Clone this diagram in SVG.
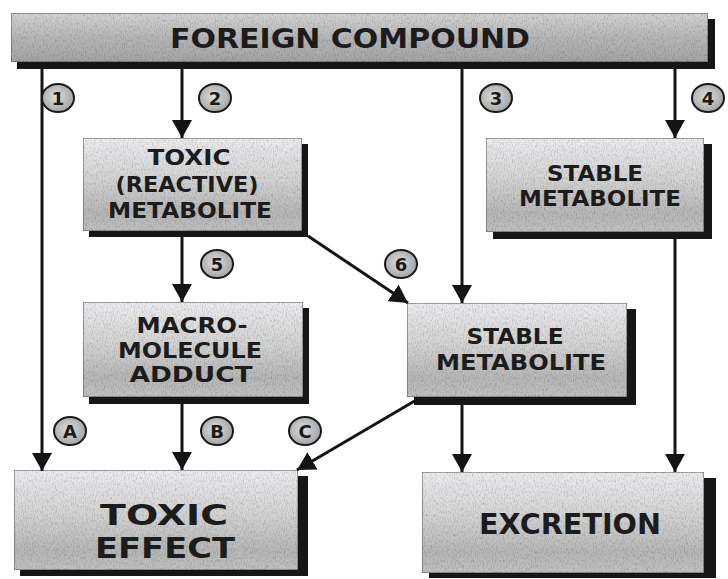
<svg xmlns="http://www.w3.org/2000/svg" width="728" height="579" viewBox="0 0 728 579">
<defs>
<linearGradient id="g" x1="0" y1="0" x2="0" y2="1">
<stop offset="0" stop-color="#ececf0"/>
<stop offset="0.45" stop-color="#d2d2d2"/>
<stop offset="0.8" stop-color="#b6b6b6"/>
<stop offset="1" stop-color="#c0c0c0"/>
</linearGradient>
<linearGradient id="gt" x1="0" y1="0" x2="0" y2="1">
<stop offset="0" stop-color="#d4d4d4"/>
<stop offset="0.5" stop-color="#b6b6b6"/>
<stop offset="1" stop-color="#a4a4a4"/>
</linearGradient>
<radialGradient id="gc" cx="0.45" cy="0.45" r="0.6">
<stop offset="0" stop-color="#dedede"/>
<stop offset="1" stop-color="#a0a0a0"/>
</radialGradient>
<filter id="noise" x="0" y="0" width="1" height="1">
<feTurbulence type="fractalNoise" baseFrequency="0.9 0.35" numOctaves="2" seed="3" result="n"/>
<feColorMatrix in="n" type="matrix" values="0 0 0 0 0  0 0 0 0 0  0 0 0 0 0  0 0 0 0.8 -0.36" result="d"/>
<feComposite in="d" in2="SourceGraphic" operator="in" result="m"/>
<feMerge><feMergeNode in="SourceGraphic"/><feMergeNode in="m"/></feMerge>
</filter>
<marker id="a" viewBox="0 0 18 20" refX="18" refY="10" markerWidth="18" markerHeight="20" markerUnits="userSpaceOnUse" orient="auto">
<path d="M0,0 L18,10 L0,20 Z" fill="#141414"/>
</marker>
</defs>
<style>
.sh{fill:#161616}
.bx{fill:url(#g);stroke:#555;stroke-width:1;filter:url(#noise)}
.tb{fill:url(#gt);stroke:#555;stroke-width:1;filter:url(#noise)}
.t{font-family:"DejaVu Sans",Verdana,sans-serif;font-weight:bold;fill:#1c1c1c;text-anchor:middle}
.c{fill:url(#gc);stroke:#1a1a1a;stroke-width:2}
.ct{font-family:"DejaVu Sans",sans-serif;font-weight:bold;fill:#1a1a1a;text-anchor:middle;font-size:18px}
.ln{stroke:#141414;stroke-width:3;fill:none;marker-end:url(#a)}
</style>
<rect width="728" height="579" fill="#fff"/>
<g id="foreign">
<rect class="sh" x="17" y="19" width="698" height="50"/>
<rect class="tb" x="11" y="13" width="697" height="49"/>
<text class="t" x="350" y="48" font-size="26" textLength="360" lengthAdjust="spacingAndGlyphs">FOREIGN COMPOUND</text>
</g>
<g id="reactive">
<rect class="sh" x="89" y="144" width="219" height="93"/>
<rect class="bx" x="83" y="138" width="219" height="93"/>
<text class="t" x="189" y="165" font-size="21" textLength="83" lengthAdjust="spacingAndGlyphs">TOXIC</text>
<text class="t" x="187" y="192" font-size="21" textLength="143" lengthAdjust="spacingAndGlyphs">(REACTIVE)</text>
<text class="t" x="190" y="218" font-size="21" textLength="164" lengthAdjust="spacingAndGlyphs">METABOLITE</text>
</g>
<g id="stable1">
<rect class="sh" x="493" y="144" width="219" height="95"/>
<rect class="bx" x="486" y="138" width="218" height="94"/>
<text class="t" x="595" y="181" font-size="21" textLength="96" lengthAdjust="spacingAndGlyphs">STABLE</text>
<text class="t" x="600" y="206" font-size="21" textLength="162" lengthAdjust="spacingAndGlyphs">METABOLITE</text>
</g>
<g id="adduct">
<rect class="sh" x="89" y="308" width="220" height="96"/>
<rect class="bx" x="83" y="302" width="220" height="95"/>
<text class="t" x="192" y="333" font-size="21" textLength="111" lengthAdjust="spacingAndGlyphs">MACRO-</text>
<text class="t" x="190" y="358" font-size="21" textLength="144" lengthAdjust="spacingAndGlyphs">MOLECULE</text>
<text class="t" x="191" y="382" font-size="21" textLength="123" lengthAdjust="spacingAndGlyphs">ADDUCT</text>
</g>
<g id="stable2">
<rect class="sh" x="414" y="309" width="222" height="96"/>
<rect class="bx" x="407" y="303" width="220" height="94"/>
<text class="t" x="515" y="344" font-size="21" textLength="97" lengthAdjust="spacingAndGlyphs">STABLE</text>
<text class="t" x="521" y="370" font-size="21" textLength="170" lengthAdjust="spacingAndGlyphs">METABOLITE</text>
</g>
<g id="toxiceffect">
<rect class="sh" x="20" y="476" width="288" height="100"/>
<rect class="bx" x="14" y="470" width="284" height="100"/>
<text class="t" x="164" y="525" font-size="29" textLength="128" lengthAdjust="spacingAndGlyphs">TOXIC</text>
<text class="t" x="165" y="558" font-size="29" textLength="140" lengthAdjust="spacingAndGlyphs">EFFECT</text>
</g>
<g id="excretion">
<rect class="sh" x="429" y="478" width="287" height="100"/>
<rect class="bx" x="422" y="472" width="282" height="101"/>
<text class="t" x="570" y="534" font-size="28" textLength="182" lengthAdjust="spacingAndGlyphs">EXCRETION</text>
</g>
<g id="connectors">
<line class="ln" x1="42" y1="69" x2="42" y2="471"/>
<line class="ln" x1="182" y1="69" x2="182" y2="138"/>
<line class="ln" x1="462" y1="69" x2="462" y2="303"/>
<line class="ln" x1="675" y1="69" x2="675" y2="138"/>
<line class="ln" x1="182" y1="237" x2="182" y2="302"/>
<line class="ln" x1="308" y1="236" x2="408" y2="303"/>
<line class="ln" x1="182" y1="404" x2="182" y2="470"/>
<line class="ln" x1="418" y1="399" x2="297" y2="470"/>
<line class="ln" x1="462" y1="405" x2="462" y2="472"/>
<line class="ln" x1="675" y1="239" x2="675" y2="472"/>
</g>
<g id="labels">
<ellipse class="c" cx="58" cy="98" rx="16" ry="14"/><text class="ct" x="58" y="104.5">1</text>
<ellipse class="c" cx="215" cy="98" rx="16" ry="14"/><text class="ct" x="215" y="104.5">2</text>
<ellipse class="c" cx="496" cy="98" rx="16" ry="14"/><text class="ct" x="496" y="104.5">3</text>
<ellipse class="c" cx="708" cy="98" rx="16" ry="14"/><text class="ct" x="708" y="104.5">4</text>
<ellipse class="c" cx="217" cy="264" rx="16" ry="14"/><text class="ct" x="217" y="270.5">5</text>
<ellipse class="c" cx="401" cy="264" rx="16" ry="14"/><text class="ct" x="401" y="270.5">6</text>
<ellipse class="c" cx="70" cy="431" rx="16" ry="14"/><text class="ct" x="70" y="437.5">A</text>
<ellipse class="c" cx="217" cy="431" rx="16" ry="14"/><text class="ct" x="217" y="437.5">B</text>
<ellipse class="c" cx="305" cy="431" rx="16" ry="14"/><text class="ct" x="305" y="437.5">C</text>
</g>
</svg>
